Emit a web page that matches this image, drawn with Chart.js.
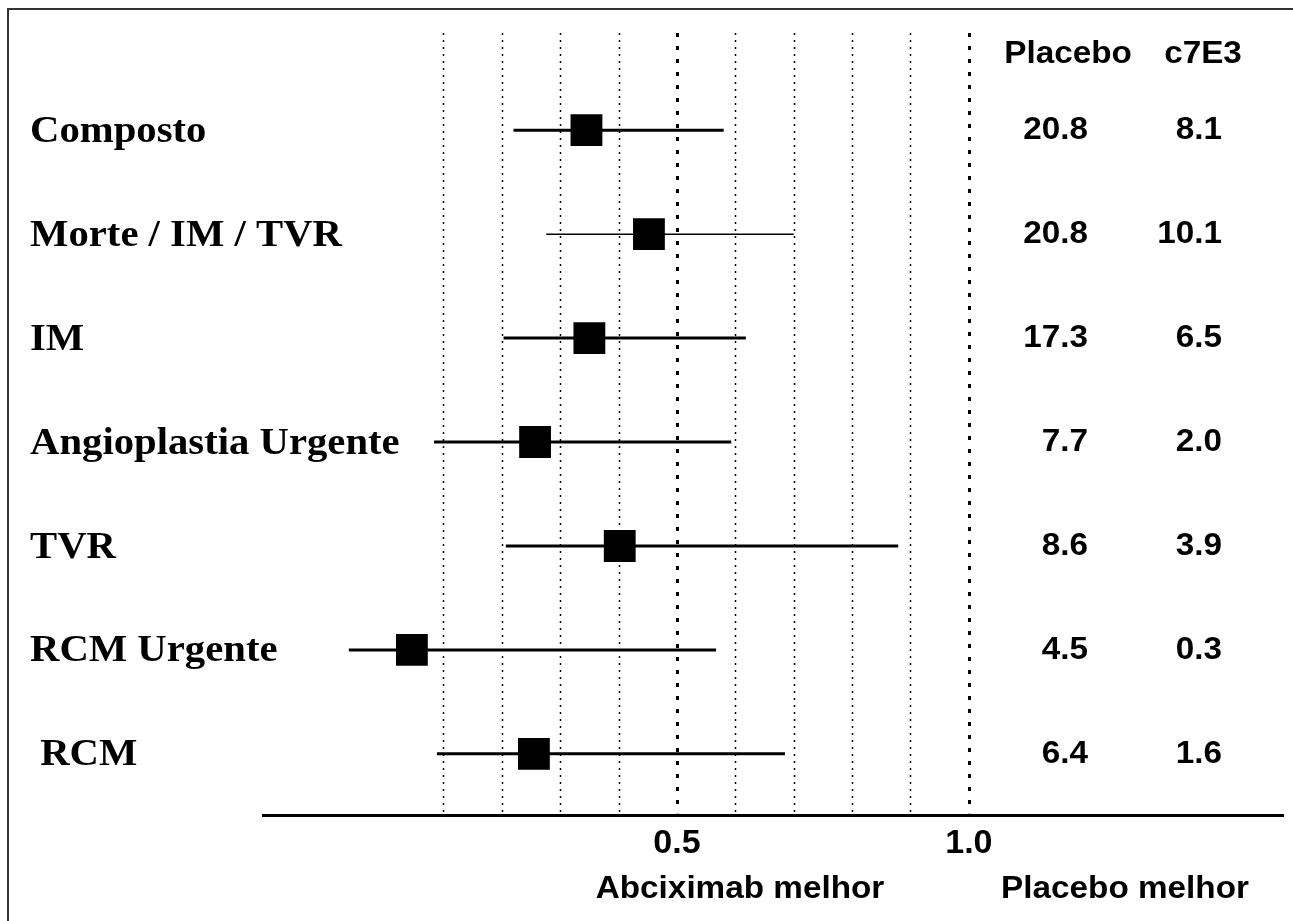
<!DOCTYPE html>
<html>
<head>
<meta charset="utf-8">
<script src="https://cdn.jsdelivr.net/npm/chart.js@4.4.1/dist/chart.umd.min.js"></script>
<style>
  html, body { margin: 0; padding: 0; background: #fff; }
  #wrap { width: 1293px; height: 921px; position: relative; }
</style>
</head>
<body>
<div id="wrap"><canvas id="chart"></canvas></div>
<script>
const outcomes = ["Composto", "Morte / IM / TVR", "IM", "Angioplastia Urgente", "TVR", "RCM Urgente", " RCM"];
const estimates = [0.345, 0.452, 0.35, 0.257, 0.402, 0.046, 0.255];
const ciLow = [0.22, 0.276, 0.203, 0.084, 0.207, -0.062, 0.089];
const ciHigh = [0.58, 0.70, 0.618, 0.593, 0.879, 0.567, 0.685];
const placeboRates = ["20.8", "20.8", "17.3", "7.7", "8.6", "4.5", "6.4"];
const c7e3Rates = ["8.1", "10.1", "6.5", "2.0", "3.9", "0.3", "1.6"];
const gridValues = [0.1, 0.2, 0.3, 0.4, 0.5, 0.6, 0.7, 0.8, 0.9, 1.0];
const refValues = [0.5, 1.0];
const tickValues = [0.5, 1.0];

// line widths of the confidence intervals (second row is drawn thin)
const ciLineWidths = [3, 1.5, 3, 3, 3, 3, 3];

const ciPoints = [];
outcomes.forEach((_, i) => {
    ciPoints.push({ x: ciLow[i], y: i }, { x: ciHigh[i], y: i }, { x: null, y: null });
});

function drawText(ctx, text, x, y, font, align, stretch) {
    ctx.save();
    ctx.font = font;
    ctx.fillStyle = "#000";
    ctx.textBaseline = "middle";
    ctx.textAlign = align;
    ctx.translate(x, y);
    ctx.scale(stretch, 1);
    ctx.fillText(text, 0, 0);
    ctx.restore();
}

const SERIF = 'bold 37px "Liberation Serif", "Times New Roman", serif';
const SANS = 'bold 32px "Liberation Sans", Arial, sans-serif';

const forestPlugin = {
    id: "forest",
    beforeDatasetsDraw(chart) {
        const { ctx, chartArea, scales: { x } } = chart;
        gridValues.forEach(v => {
            const heavy = refValues.includes(v);
            const px = Math.round(x.getPixelForValue(v)) + 0.5;
            ctx.save();
            ctx.strokeStyle = "#000";
            ctx.lineWidth = heavy ? 3 : 1.5;
            ctx.setLineDash(heavy ? [4, 9] : [2, 5]);
            ctx.beginPath();
            ctx.moveTo(px, chartArea.top);
            ctx.lineTo(px, chartArea.bottom - 2);
            ctx.stroke();
            ctx.restore();
        });
    },
    afterDraw(chart) {
        const { ctx, scales: { y } } = chart;

        outcomes.forEach((label, i) => {
            drawText(ctx, label, 30, y.getPixelForValue(i) + 2, SERIF, "left", 1.1);
        });

        drawText(ctx, "Placebo", 1068, 54, SANS, "center", 1.04);
        drawText(ctx, "c7E3", 1203, 54, SANS, "center", 1.04);
        outcomes.forEach((_, i) => {
            const py = y.getPixelForValue(i);
            drawText(ctx, placeboRates[i], 1088, py, SANS, "right", 1.04);
            drawText(ctx, c7e3Rates[i], 1222, py, SANS, "right", 1.04);
        });

        drawText(ctx, "Abciximab melhor", 740, 889, SANS, "center", 1.04);
        drawText(ctx, "Placebo melhor", 1125, 889, SANS, "center", 1.04);

        // page frame (top and left edges)
        ctx.save();
        ctx.strokeStyle = "#333";
        ctx.lineWidth = 2;
        ctx.beginPath();
        ctx.moveTo(8, 921);
        ctx.lineTo(8, 9);
        ctx.lineTo(1293, 9);
        ctx.stroke();
        ctx.restore();
    }
};

new Chart(document.getElementById("chart"), {
    type: "scatter",
    data: {
        datasets: [
            {
                label: "estimate",
                data: estimates.map((v, i) => ({ x: v, y: i })),
                pointStyle: "rect",
                pointRadius: 22.5,
                pointHoverRadius: 22.5,
                backgroundColor: "#000",
                borderWidth: 0,
                order: 0
            },
            {
                label: "ci",
                data: ciPoints,
                showLine: true,
                spanGaps: false,
                pointRadius: 0,
                pointHoverRadius: 0,
                borderColor: "#000",
                borderWidth: 3,
                borderCapStyle: "butt",
                segment: {
                    borderWidth: c => ciLineWidths[Math.floor(c.p0DataIndex / 3)]
                },
                order: 1
            }
        ]
    },
    options: {
        responsive: true,
        maintainAspectRatio: false,
        animation: false,
        events: [],
        layout: { autoPadding: false, padding: { top: 33, left: 263, right: 10, bottom: 49 } },
        plugins: {
            legend: { display: false },
            tooltip: { enabled: false }
        },
        scales: {
            x: {
                type: "linear",
                min: -0.209,
                max: 1.538,
                grid: { display: false, drawTicks: false },
                border: { display: true, color: "#000", width: 3 },
                afterBuildTicks: scale => {
                    scale.ticks = tickValues.map(v => ({ value: v }));
                },
                ticks: {
                    autoSkip: false,
                    maxRotation: 0,
                    padding: 8,
                    color: "#000",
                    font: { family: '"Liberation Sans", Arial, sans-serif', weight: "bold", size: 34 },
                    callback: v => Number(v).toFixed(1)
                }
            },
            y: {
                type: "linear",
                display: false,
                reverse: true,
                min: -0.935,
                max: 6.59
            }
        }
    },
    plugins: [forestPlugin]
});
</script>
</body>
</html>
